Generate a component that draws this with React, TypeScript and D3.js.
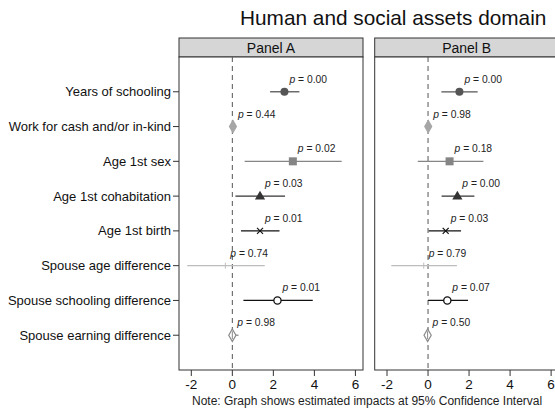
import React from 'react';
import * as d3 from 'd3';

const outcomes = [
  'Years of schooling',
  'Work for cash and/or in-kind',
  'Age 1st sex',
  'Age 1st cohabitation',
  'Age 1st birth',
  'Spouse age difference',
  'Spouse schooling difference',
  'Spouse earning difference',
];

const markers = ['circle', 'diamond', 'square', 'triangle', 'x', 'tick', 'ocircle', 'odiamond'];
const colors = ['#555555', '#a6a6a6', '#858585', '#333333', '#111111', '#bdbdbd', '#111111', '#8a8a8a'];

const panelA = {
  title: 'Panel A',
  est: [2.54, 0.03, 2.95, 1.35, 1.35, -0.34, 2.2, 0.0],
  lo: [1.84, 0.0, 0.6, 0.15, 0.42, -2.2, 0.54, -0.15],
  hi: [3.27, 0.06, 5.33, 2.57, 2.3, 1.58, 3.92, 0.3],
  p: ['0.00', '0.44', '0.02', '0.03', '0.01', '0.74', '0.01', '0.98'],
};

const panelB = {
  title: 'Panel B',
  est: [1.53, 0.01, 1.05, 1.43, 0.86, -0.21, 0.94, -0.02],
  lo: [0.65, -0.02, -0.5, 0.66, 0.03, -1.79, 0.0, -0.1],
  hi: [2.42, 0.04, 2.7, 2.26, 1.61, 1.41, 1.95, 0.05],
  p: ['0.00', '0.98', '0.18', '0.00', '0.03', '0.79', '0.07', '0.50'],
};

const xTicks = [-2, 0, 2, 4, 6];
const xDomain = [-2.6, 6.37];

const headerTop = 38;
const plotTop = 57;
const plotBottom = 370;
const panelW = 184;
const panelLefts = [179, 374.7];

const y = d3.scalePoint().domain(outcomes).range([plotTop, plotBottom]).padding(1);

const Marker = ({ kind, x, yy, color }) => {
  if (kind === 'circle') return <circle cx={x} cy={yy} r={4} fill={color} />;
  if (kind === 'ocircle') return <circle cx={x} cy={yy} r={3.6} fill="white" stroke={color} strokeWidth={1.3} />;
  if (kind === 'square') return <rect x={x - 4} y={yy - 4} width={8} height={8} fill={color} />;
  if (kind === 'diamond')
    return <path d={d3.symbol(d3.symbolDiamond, 60)()} transform={`translate(${x},${yy})`} fill={color} />;
  if (kind === 'odiamond')
    return (
      <g transform={`translate(${x},${yy})`}>
        <path d={d3.symbol(d3.symbolDiamond, 45)()} fill="white" stroke={color} strokeWidth={1.2} />
        <line x1={0} x2={0} y1={-4} y2={4} stroke={color} strokeWidth={1} />
      </g>
    );
  if (kind === 'triangle')
    return <path d={d3.symbol(d3.symbolTriangle, 45)()} transform={`translate(${x},${yy + 0.5})`} fill={color} />;
  if (kind === 'x')
    return (
      <g stroke={color} strokeWidth={1.2}>
        <line x1={x - 3} x2={x + 3} y1={yy - 3} y2={yy + 3} />
        <line x1={x - 3} x2={x + 3} y1={yy + 3} y2={yy - 3} />
      </g>
    );
  return <line x1={x} x2={x} y1={yy - 3} y2={yy + 3} stroke={color} strokeWidth={1} />;
};

const Panel = ({ panel, left, showY }) => {
  const x = d3.scaleLinear().domain(xDomain).range([left, left + panelW]);
  return (
    <g>
      <rect x={left} y={headerTop} width={panelW} height={plotTop - headerTop} fill="#d6d6d6" stroke="#333" strokeWidth={1} />
      <text x={left + panelW / 2} y={headerTop + 14.5} textAnchor="middle" fontSize={14} fill="#111">
        {panel.title}
      </text>
      <rect x={left} y={plotTop} width={panelW} height={plotBottom - plotTop} fill="white" stroke="#333" strokeWidth={1} />
      <line x1={x(0)} x2={x(0)} y1={plotTop} y2={plotBottom} stroke="#555" strokeWidth={1} strokeDasharray="5,4" />
      {outcomes.map((o, i) => (
        <g key={o}>
          <line x1={x(panel.lo[i])} x2={x(panel.hi[i])} y1={y(o)} y2={y(o)} stroke={colors[i]} strokeWidth={1.3} />
          <Marker kind={markers[i]} x={x(panel.est[i])} yy={y(o)} color={colors[i]} />
          <text x={x(panel.est[i]) + 5} y={y(o) - 9} fontSize={10.3} fill="#222">
            <tspan fontStyle="italic">p</tspan> = {panel.p[i]}
          </text>
        </g>
      ))}
      {showY &&
        outcomes.map((o) => (
          <g key={o}>
            <line x1={left - 6} x2={left} y1={y(o)} y2={y(o)} stroke="#333" />
            <text x={left - 8} y={y(o) + 4.5} textAnchor="end" fontSize={13} fill="#111">
              {o}
            </text>
          </g>
        ))}
      {xTicks.map((t) => (
        <g key={t}>
          <line x1={x(t)} x2={x(t)} y1={plotBottom} y2={plotBottom + 6} stroke="#333" />
          <text x={x(t)} y={plotBottom + 19} textAnchor="middle" fontSize={13.5} fill="#111">
            {t}
          </text>
        </g>
      ))}
    </g>
  );
};

export default function App() {
  return (
    <svg
      width={555}
      height={411}
      style={{ position: 'absolute', left: 0, top: 0, background: 'white' }}
      fontFamily="'Liberation Sans', Arial, sans-serif"
    >
      <text x={240} y={25} fontSize={20.8} fill="#111">
        Human and social assets domain
      </text>
      <Panel panel={panelA} left={panelLefts[0]} showY={true} />
      <Panel panel={panelB} left={panelLefts[1]} showY={false} />
      <text x={192} y={405} fontSize={12} fill="#222">
        Note: Graph shows estimated impacts at 95% Confidence Interval
      </text>
    </svg>
  );
}
